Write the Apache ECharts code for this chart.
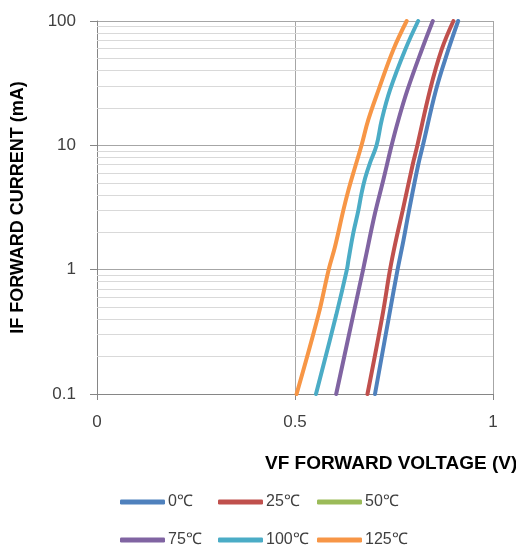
<!DOCTYPE html>
<html>
<head>
<meta charset="utf-8">
<script src="https://cdn.jsdelivr.net/npm/echarts@6/dist/echarts.min.js"></script>
<style>
html,body{margin:0;padding:0;background:#fff;}
#chart{width:516px;height:551px;}
</style>
</head>
<body>
<div id="chart"></div>
<script>
// Data: [forward voltage (V), forward current (mA)]
var seriesNames = ['0℃', '25℃', '50℃', '75℃', '100℃', '125℃'];
var colors = ['#4F81BD', '#C0504D', '#9BBB59', '#8064A2', '#4BACC6', '#F79646'];

var temp0 = [[0.702,0.1],[0.738,0.431],[0.759,1],[0.774,1.73],[0.788,3],[0.811,6.95],[0.823,10],[0.856,27.9],[0.887,58.5],[0.912,100]];
var temp25 = [[0.683,0.1],[0.721,0.431],[0.740,1],[0.755,1.73],[0.772,3],[0.797,6.95],[0.809,10],[0.841,27.9],[0.870,58.5],[0.900,100]];
var temp50 = [];
var temp75 = [[0.604,0.1],[0.647,0.431],[0.672,1],[0.677,1.196],[0.702,2.84],[0.723,5.26],[0.744,10],[0.761,16],[0.784,27.9],[0.820,58.5],[0.848,100]];
var temp100 = [[0.553,0.1],[0.604,0.431],[0.631,1],[0.635,1.196],[0.647,1.96],[0.660,3],[0.668,4.11],[0.677,5.43],[0.689,7.17],[0.706,10],[0.719,16],[0.740,27.9],[0.778,58.5],[0.811,100]];
var temp125 = [[0.504,0.1],[0.559,0.431],[0.585,1],[0.601,1.53],[0.622,3],[0.635,4.38],[0.652,6.73],[0.668,10],[0.685,16],[0.711,27.9],[0.748,58.5],[0.782,100]];

var xTicks = [0, 0.5, 1];
var yMajorTicks = [0.1, 1, 10, 100];
var yMinorGrid = [0.2,0.3,0.4,0.5,0.6,0.7,0.8,0.9, 2,3,4,5,6,7,8,9, 20,30,40,50,60,70,80,90];

var allData = [temp0, temp25, temp50, temp75, temp100, temp125];

var chart = echarts.init(document.getElementById('chart'), null, {renderer: 'canvas'});

var series = [{
  name: 'minorgrid',
  type: 'line',
  data: [],
  z: 1,
  silent: true,
  markLine: {
    silent: true,
    z: 1,
    symbol: ['none', 'none'],
    label: {show: false},
    lineStyle: {color: '#d9d9d9', width: 1, type: 'solid'},
    emphasis: {disabled: true},
    data: yMinorGrid.map(function (v) { return {yAxis: v}; })
  }
}];
seriesNames.forEach(function (n, i) {
  series.push({
    name: n,
    type: 'line',
    data: allData[i],
    smooth: 0.4,
    showSymbol: false,
    symbol: 'none',
    z: 3,
    lineStyle: {width: 4, color: colors[i], cap: 'round'},
    itemStyle: {color: colors[i]}
  });
});

var legendPos = [[120, 494], [218, 494], [317, 494], [120, 532], [218, 532], [317, 532]];
var legends = seriesNames.map(function (n, i) {
  return {
    data: [n],
    left: legendPos[i][0],
    top: legendPos[i][1],
    icon: 'roundRect',
    itemWidth: 45,
    itemHeight: 5,
    itemGap: 0,
    padding: 0,
    textStyle: {fontFamily: 'Liberation Sans', fontSize: 16, color: '#404040', padding: [0, 0, 0, -2]},
    selectedMode: false
  };
});

chart.setOption({
  animation: false,
  color: colors,
  legend: legends,
  grid: {left: 97, right: 23, top: 21, bottom: 157, containLabel: false},
  xAxis: {
    type: 'value',
    min: 0,
    max: 1,
    interval: 0.5,
    axisLine: {show: true, lineStyle: {color: '#868686', width: 1}},
    axisTick: {show: true, length: 6, lineStyle: {color: '#868686'}},
    axisLabel: {
      fontFamily: 'Liberation Sans', fontSize: 17, color: '#404040', margin: 20,
      formatter: function (v) { return xTicks.indexOf(v) >= 0 ? String(v) : ''; }
    },
    splitLine: {show: true, lineStyle: {color: '#a6a6a6', width: 1}}
  },
  yAxis: {
    type: 'log',
    logBase: 10,
    min: 0.1,
    max: 100,
    axisLine: {show: true, onZero: false, lineStyle: {color: '#868686', width: 1}},
    axisTick: {show: true, length: 7, lineStyle: {color: '#868686'}},
    axisLabel: {
      fontFamily: 'Liberation Sans', fontSize: 17, color: '#404040', margin: 21,
      formatter: function (v) {
        var r = Math.round(v * 10) / 10;
        return yMajorTicks.indexOf(r) >= 0 ? String(r) : '';
      }
    },
    splitLine: {show: true, lineStyle: {color: '#a6a6a6', width: 1}},
    name: 'IF FORWARD CURRENT (mA)',
    nameLocation: 'middle',
    nameGap: 70,
    nameRotate: 90,
    nameTextStyle: {fontFamily: 'Liberation Sans', fontWeight: 'bold', fontSize: 18, color: '#000'}
  },
  graphic: [{
    type: 'text',
    left: 265,
    top: 454,
    style: {
      text: 'VF FORWARD VOLTAGE (V)',
      fontFamily: 'Liberation Sans',
      fontWeight: 'bold',
      fontSize: 19,
      fill: '#000'
    }
  }],
  series: series
});
</script>
</body>
</html>
